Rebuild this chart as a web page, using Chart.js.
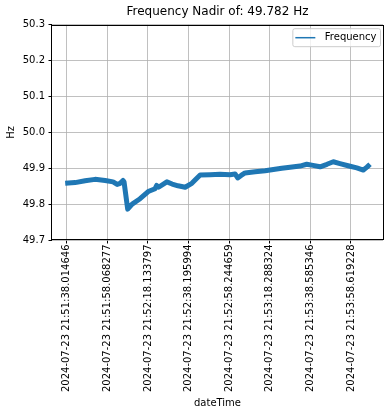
<!DOCTYPE html>
<html>
<head>
<meta charset="utf-8">
<script src="https://cdn.jsdelivr.net/npm/chart.js@4.4.1/dist/chart.umd.min.js"></script>
<style>
  body { margin: 0; background: #fff; }
  canvas { display: block; }
</style>
</head>
<body>
<canvas id="freqChart" width="392" height="416"></canvas>
<script>
// seconds after 2024-07-23 21:51:38 and frequency (Hz)
const seconds = [-0.8, 4.1, 9.0, 13.9, 18.9, 22.8, 24.8, 26.3, 27.7, 28.2, 30.0, 32.2, 36.1, 40.1,
  43.5, 44.3, 45.2, 49.3, 51.9, 54.8, 58.3, 61.6, 63.7, 65.7, 70.6, 75.5, 80.4, 82.9, 84.2,
  85.9, 87.8, 92.8, 97.7, 102.6, 105.9, 110.0, 114.9, 118.2, 121.3, 124.8, 128.2, 131.3,
  134.6, 138.6, 142.9, 146.1, 147.9, 149.4];
const frequency = [49.858, 49.860, 49.865, 49.869, 49.866, 49.862, 49.855, 49.858, 49.866, 49.862,
  49.786, 49.800, 49.815, 49.835, 49.843, 49.852, 49.847, 49.862, 49.856, 49.851, 49.847,
  49.858, 49.870, 49.881, 49.882, 49.883, 49.882, 49.884, 49.873, 49.880, 49.887, 49.890,
  49.893, 49.897, 49.900, 49.903, 49.906, 49.911, 49.908, 49.904, 49.911, 49.918, 49.913,
  49.907, 49.901, 49.895, 49.903, 49.911];

const tickLabels = ['2024-07-23 21:51:38.014646', '2024-07-23 21:51:58.068277',
  '2024-07-23 21:52:18.133797', '2024-07-23 21:52:38.195994', '2024-07-23 21:52:58.244659',
  '2024-07-23 21:53:18.288324', '2024-07-23 21:53:38.585346', '2024-07-23 21:53:58.619228'];
const tickStep = 20;
const nadir = 49.782;

Chart.defaults.font.family = "'DejaVu Sans', sans-serif";
Chart.defaults.font.size = 10;
Chart.defaults.color = '#000';

// box around the plot, like matplotlib spines
const frame = {
  id: 'frame',
  afterDatasetsDraw(chart) {
    const { ctx, chartArea: a } = chart;
    ctx.save();
    ctx.strokeStyle = '#000';
    ctx.lineWidth = 1;
    ctx.strokeRect(Math.round(a.left) - 0.5, Math.round(a.top) + 0.5,
      Math.round(a.right - a.left) + 1, Math.round(a.bottom - a.top) - 1);
    ctx.restore();
  }
};

// legend box in the upper right corner of the plot
const boxLegend = {
  id: 'boxLegend',
  afterDraw(chart) {
    const { ctx, chartArea: a } = chart;
    const ds = chart.data.datasets[0];
    ctx.save();
    ctx.font = "10px 'DejaVu Sans'";
    const tw = ctx.measureText(ds.label).width;
    const w = 2.5 + 20 + 9 + tw + 4.5, h = 18;
    const x = a.right - 3 - w, y = a.top + 3.5;
    ctx.beginPath();
    ctx.roundRect(x + 0.5, y + 0.5, w, h, 2);
    ctx.fillStyle = 'rgba(255,255,255,0.8)';
    ctx.fill();
    ctx.strokeStyle = '#cccccc';
    ctx.lineWidth = 1;
    ctx.stroke();
    ctx.beginPath();
    ctx.moveTo(x + 3, y + h / 2 + 0.5);
    ctx.lineTo(x + 23, y + h / 2 + 0.5);
    ctx.strokeStyle = ds.borderColor;
    ctx.lineWidth = 1.5;
    ctx.stroke();
    ctx.fillStyle = '#000';
    ctx.textBaseline = 'middle';
    ctx.fillText(ds.label, x + 32.5, y + h / 2 + 0.5);
    ctx.restore();
  }
};

new Chart(document.getElementById('freqChart'), {
  type: 'line',
  data: {
    datasets: [{
      label: 'Frequency',
      data: seconds.map((s, i) => ({ x: s, y: frequency[i] })),
      borderColor: '#1f77b4',
      borderWidth: 5,
      borderJoinStyle: 'round',
      borderCapStyle: 'butt',
      pointRadius: 0,
      tension: 0
    }]
  },
  options: {
    responsive: false,
    animation: false,
    layout: { padding: { left: 0, right: 9, top: 0, bottom: 0 } },
    plugins: {
      legend: { display: false },
      tooltip: { enabled: false },
      title: {
        display: true,
        fullSize: false,
        text: 'Frequency Nadir of: ' + nadir + ' Hz',
        font: { size: 12, weight: 'normal' },
        color: '#000',
        padding: { top: 5, bottom: 5.3 }
      }
    },
    scales: {
      x: {
        type: 'linear',
        min: -7.3,
        max: 155.8,
        afterFit(scale) { scale.height = 176; },
        afterBuildTicks(scale) {
          scale.ticks = tickLabels.map((l, i) => ({ value: i * tickStep }));
        },
        ticks: {
          autoSkip: false,
          maxRotation: 90,
          minRotation: 90,
          padding: 1,
          callback: (v, i) => tickLabels[i]
        },
        grid: { color: '#b0b0b0', lineWidth: 0.8, tickColor: '#000', tickLength: 3.5, tickWidth: 1 },
        border: { display: false },
        title: { display: true, text: 'dateTime', font: { size: 10 }, padding: { top: 4, bottom: 7 } }
      },
      y: {
        min: 49.7,
        max: 50.3,
        afterFit(scale) { scale.width = 52; },
        ticks: { stepSize: 0.1, padding: 3.5, callback: v => v.toFixed(1) },
        grid: { color: '#b0b0b0', lineWidth: 0.8, tickColor: '#000', tickLength: 3.5, tickWidth: 1 },
        border: { display: false },
        title: { display: true, text: 'Hz', font: { size: 10 }, padding: { top: 5, bottom: 0 } }
      }
    }
  },
  plugins: [frame, boxLegend]
});
</script>
</body>
</html>
